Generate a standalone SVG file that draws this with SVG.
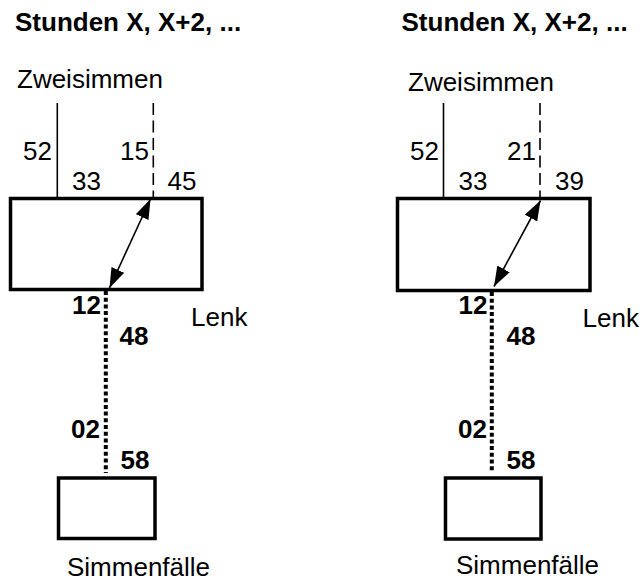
<svg xmlns="http://www.w3.org/2000/svg" width="642" height="583" viewBox="0 0 642 583">
  <style>
    text { font-family: "Liberation Sans", Arial, sans-serif; font-size: 26px; fill: #000; }
    .b { font-weight: bold; }
    .box { fill: #fff; stroke: #000; stroke-width: 3.5; }
    .solid { stroke: #000; stroke-width: 1.6; fill: none; }
    .dash { stroke: #000; stroke-width: 1.6; fill: none; stroke-dasharray: 12 5.5; }
    .dot { stroke: #000; stroke-width: 4; fill: none; stroke-dasharray: 4 2.7; }
    .arr { stroke: #000; stroke-width: 1.6; fill: none; marker-start: url(#head); marker-end: url(#head); }
  </style>
  <defs>
    <marker id="head" markerUnits="userSpaceOnUse" markerWidth="22" markerHeight="16" refX="20" refY="7" orient="auto-start-reverse">
      <path d="M0,0 L20,7 L0,14 Z" fill="#000"/>
    </marker>
  </defs>

  <!-- left panel -->
  <g id="left-title"><text class="b" x="15" y="31">Stunden X, X+2, ...</text></g>
  <g id="left-zweisimmen"><text x="17" y="88">Zweisimmen</text></g>
  <g id="left-lenk-box"><rect class="box" x="10.5" y="198.5" width="191.5" height="91"/></g>
  <g id="left-lenk-label"><text x="191" y="326">Lenk</text></g>
  <g id="left-simmenfaelle-box"><rect class="box" x="58.5" y="478" width="96.5" height="60.5"/></g>
  <g id="left-simmenfaelle-label"><text x="67" y="576">Simmenfälle</text></g>

  <!-- right panel -->
  <g id="right-title"><text class="b" x="401.5" y="31">Stunden X, X+2, ...</text></g>
  <g id="right-zweisimmen"><text x="408" y="91">Zweisimmen</text></g>
  <g id="right-lenk-box"><rect class="box" x="397.5" y="198.5" width="192.5" height="92"/></g>
  <g id="right-lenk-label"><text x="582.5" y="326.5">Lenk</text></g>
  <g id="right-simmenfaelle-box"><rect class="box" x="445.5" y="478" width="95.5" height="61"/></g>
  <g id="right-simmenfaelle-label"><text x="456" y="573.5">Simmenfälle</text></g>

  <g id="connectors">
    <!-- left -->
    <line class="solid" x1="57.3" y1="103" x2="57.3" y2="197"/>
    <line class="dash" x1="153.3" y1="103" x2="153.3" y2="197"/>
    <line class="arr" x1="150.5" y1="199" x2="109.5" y2="288"/>
    <line class="dot" x1="105.8" y1="291" x2="105.8" y2="473"/>
    <!-- right -->
    <line class="solid" x1="443.5" y1="103" x2="443.5" y2="197"/>
    <line class="dash" x1="540" y1="103" x2="540" y2="197"/>
    <line class="arr" x1="540.5" y1="200.5" x2="494" y2="286.5"/>
    <line class="dot" x1="491.8" y1="292" x2="491.8" y2="472"/>
  </g>

  <g id="labels">
    <!-- left -->
    <text x="23" y="160">52</text>
    <text x="120" y="160">15</text>
    <text x="72" y="190">33</text>
    <text x="167.5" y="190">45</text>
    <text class="b" x="72" y="314">12</text>
    <text class="b" x="119.5" y="345">48</text>
    <text class="b" x="71" y="438">02</text>
    <text class="b" x="120.5" y="469">58</text>
    <!-- right -->
    <text x="410" y="160">52</text>
    <text x="507" y="160">21</text>
    <text x="458.5" y="190">33</text>
    <text x="555" y="190">39</text>
    <text class="b" x="458.5" y="314">12</text>
    <text class="b" x="506.5" y="345">48</text>
    <text class="b" x="458" y="438">02</text>
    <text class="b" x="506.5" y="469">58</text>
  </g>
</svg>
